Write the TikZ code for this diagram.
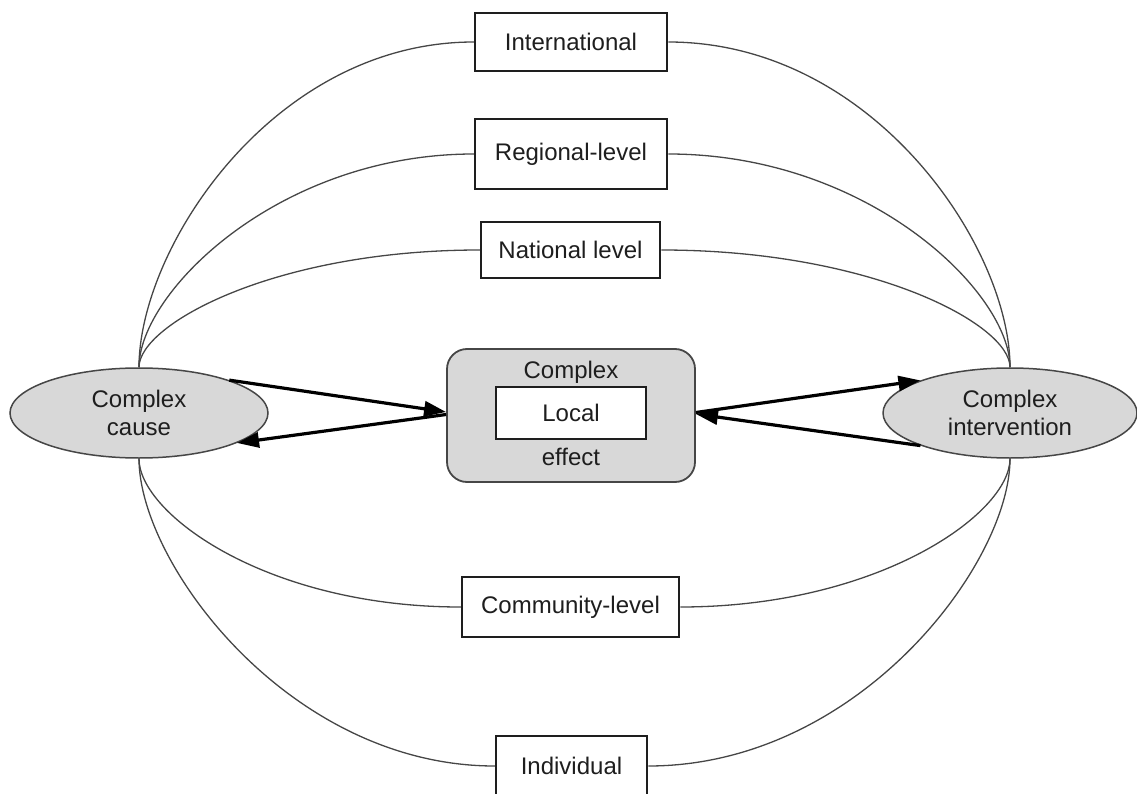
\documentclass[tikz,border=0pt]{standalone}
\usepackage{fontspec}
\setmainfont{Liberation Sans}
\usetikzlibrary{arrows.meta,shapes.geometric}
\definecolor{boxfill}{RGB}{216,216,216}
\definecolor{ink}{RGB}{30,30,30}
\definecolor{wire}{RGB}{70,70,70}

\begin{document}
\begin{tikzpicture}[x=1pt,y=-1pt,
  font=\fontsize{24}{28}\selectfont,
  levelbox/.style={draw=ink, line width=2.5pt, fill=white, inner sep=0pt, text=ink},
  actor/.style={ellipse, draw=wire, line width=1.5pt, fill=boxfill, inner sep=0pt,
                minimum width=258pt, minimum height=90pt, align=center, text=ink},
  hub/.style={draw=wire, line width=1.8pt, fill=boxfill, rounded corners=20pt,
              minimum width=248pt, minimum height=133pt, inner sep=0pt},
  plain/.style={text=ink, inner sep=0pt},
  link/.style={draw=wire, line width=1.3pt},
  flow/.style={draw=black, line width=3.2pt, -{Triangle[length=22pt,width=15pt]}},
]
\useasboundingbox (0,0) rectangle (1137,794);

% levels of action
\node[levelbox, minimum width=192pt, minimum height=58pt] (intl) at (571,42) {International};
\node[levelbox, minimum width=192pt, minimum height=70pt] (reg)  at (571,154) {Regional-level};
\node[levelbox, minimum width=179pt, minimum height=56pt] (nat)  at (570.5,250) {National level};
\node[levelbox, minimum width=217pt, minimum height=60pt] (comm) at (570.5,607) {Community-level};
\node[levelbox, minimum width=151pt, minimum height=60pt] (indiv) at (571.5,766) {Individual};

% cause and intervention
\node[actor] (cL) at (139,413) {Complex\\cause};
\node[actor, minimum width=254pt] (cR) at (1010,413) {Complex\\intervention};

% central effect
\node[hub] (ctr) at (571,415.5) {};
\node[plain] (ctrtop) at (571,372) {Complex};
\node[levelbox, minimum width=150pt, minimum height=52pt] (local) at (571,413) {Local};
\node[plain] (ctrbot) at (571,457) {effect};

% arcs through the upper levels
\draw[link] (cL.north) .. controls +(0,-120) and +(-200,0) .. (intl.west);
\draw[link] (intl.east) .. controls +(205,0) and +(0,-120) .. (cR.north);
\draw[link] (cL.north) .. controls +(0,-75) and +(-195,0) .. (reg.west);
\draw[link] (reg.east) .. controls +(200,0) and +(0,-75) .. (cR.north);
\draw[link] (cL.north) .. controls +(0,-43) and +(-205,0) .. (nat.west);
\draw[link] (nat.east) .. controls +(210,0) and +(0,-43) .. (cR.north);

% arcs through the lower levels
\draw[link] (cL.south) .. controls +(0,55) and +(-194,0) .. (comm.west);
\draw[link] (comm.east) .. controls +(198,0) and +(0,55) .. (cR.south);
\draw[link] (cL.south) .. controls +(0,105) and +(-205,0) .. (indiv.west);
\draw[link] (indiv.east) .. controls +(210,0) and +(0,105) .. (cR.south);

% feedback between cause, effect and intervention
\draw[flow] (cL.20) -- ([yshift=3.5pt]ctr.west);
\draw[flow] ([yshift=1pt]ctr.west) -- (cL.-17);
\draw[flow] ([yshift=3pt]ctr.east) -- (cR.160);
\draw[flow] (cR.200) -- ([yshift=1.5pt]ctr.east);
\end{tikzpicture}
\end{document}
